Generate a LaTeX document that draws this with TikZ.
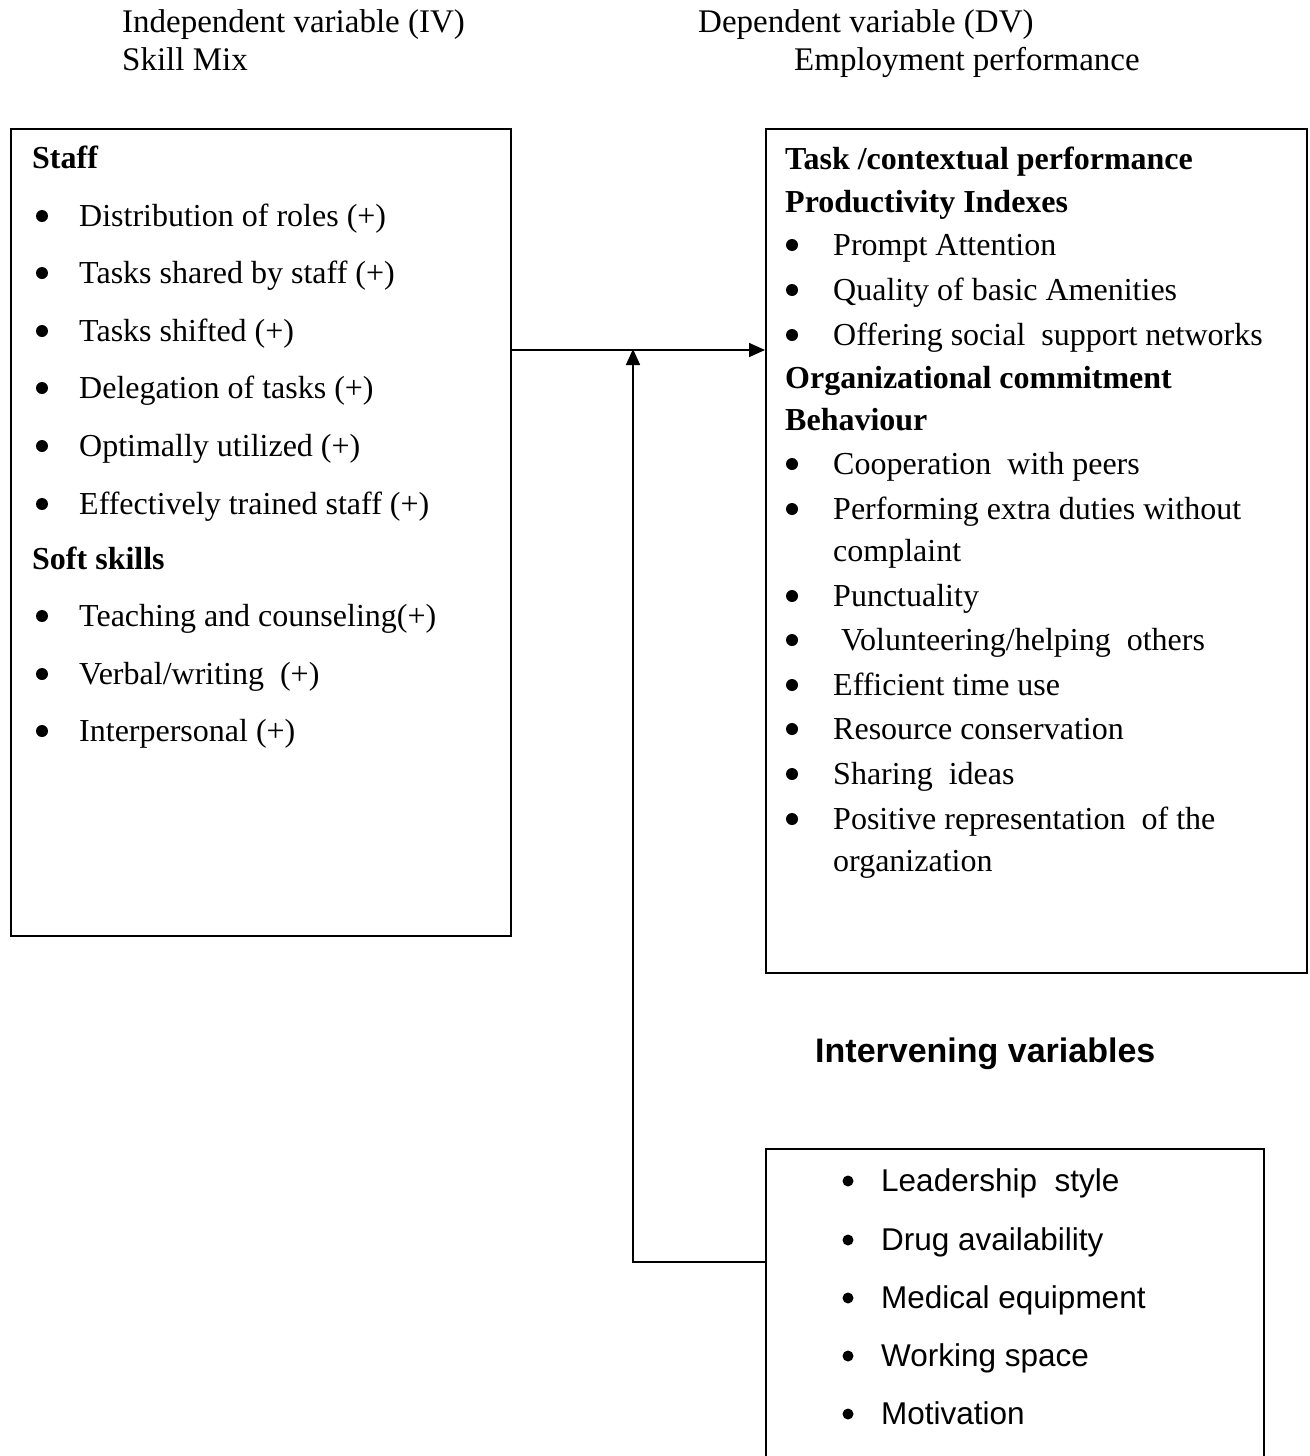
\documentclass[tikz,border=0pt]{standalone}
\usepackage{fontspec}
\setmainfont{Liberation Serif}
\newfontfamily\sansf{Liberation Sans}
\usetikzlibrary{arrows.meta}
\begin{document}
\begin{tikzpicture}[x=1pt,y=-1pt,
  txt/.style={inner sep=0pt,anchor=base west,font=\fontsize{32}{36}\selectfont},
  hdtxt/.style={txt,font=\fontsize{32}{36}\selectfont\bfseries},
  toptxt/.style={inner sep=0pt,anchor=base west,font=\fontsize{33}{38}\selectfont},
  bul/.style={circle,fill,inner sep=0pt,minimum size=12pt},
  stxt/.style={inner sep=0pt,anchor=base west,font=\sansf\fontsize{31.5}{36}\selectfont},
  sbul/.style={circle,fill,inner sep=0pt,minimum size=11pt},
  boxst/.style={draw,line width=1.6pt,inner sep=0pt,anchor=north west},
  conn/.style={line width=1.6pt},
  arr/.style={conn,-{Triangle[length=16pt,width=14pt]}}]
\useasboundingbox (0,0) rectangle (1309,1456);
% headers
\node[toptxt] (ivh) at (122,32) {Independent variable (IV)};
\node[toptxt] (ivs) at (122,70) {Skill Mix};
\node[toptxt] (dvh) at (698,32) {Dependent variable (DV)};
\node[toptxt] (dvs) at (794,70) {Employment performance};
% boxes
\node[boxst,minimum width=500pt,minimum height=807pt] (iv) at (10,128) {};
\node[boxst,minimum width=541pt,minimum height=844pt] (dv) at (765,128) {};
\node[boxst,minimum width=498pt,minimum height=360pt] (mv) at (765,1148) {};
% left box text
\node[hdtxt] (staff) at (32,168) {Staff};
\node[bul] (lb1) at (42,216) {}; \node[txt] (l1) at (79,226) {Distribution of roles (+)};
\node[bul] (lb2) at (42,273) {}; \node[txt] (l2) at (79,283) {Tasks shared by staff (+)};
\node[bul] (lb3) at (42,331) {}; \node[txt] (l3) at (79,341) {Tasks shifted (+)};
\node[bul] (lb4) at (42,388) {}; \node[txt] (l4) at (79,398) {Delegation of tasks (+)};
\node[bul] (lb5) at (42,446) {}; \node[txt] (l5) at (79,456) {Optimally utilized (+)};
\node[bul] (lb6) at (42,504) {}; \node[txt] (l6) at (79,514) {Effectively trained staff (+)};
\node[hdtxt] (soft) at (32,569) {Soft skills};
\node[bul] (lb7) at (42,616) {}; \node[txt] (l7) at (79,626) {Teaching and counseling(+)};
\node[bul] (lb8) at (42,674) {}; \node[txt] (l8) at (79,684) {Verbal/writing\ \ (+)};
\node[bul] (lb9) at (42,731) {}; \node[txt] (l9) at (79,741) {Interpersonal (+)};
% right box text
\node[hdtxt] (task) at (785,169) {Task /contextual performance};
\node[hdtxt] (prod) at (785,212) {Productivity Indexes};
\node[bul] (rb1) at (792,245) {}; \node[txt] (r1) at (833,255) {Prompt Attention};
\node[bul] (rb2) at (792,290) {}; \node[txt] (r2) at (833,300) {Quality of basic Amenities};
\node[bul] (rb3) at (792,335) {}; \node[txt] (r3) at (833,345) {Offering social\ \ support networks};
\node[hdtxt] (org) at (785,388) {Organizational commitment};
\node[hdtxt] (beh) at (785,430) {Behaviour};
\node[bul] (rb4) at (792,464) {}; \node[txt] (r4) at (833,474) {Cooperation\ \ with peers};
\node[bul] (rb5) at (792,509) {}; \node[txt] (r5) at (833,519) {Performing extra duties without};
\node[txt] (r5b) at (833,561) {complaint};
\node[bul] (rb6) at (792,596) {}; \node[txt] (r6) at (833,606) {Punctuality};
\node[bul] (rb7) at (792,640) {}; \node[txt] (r7) at (841,650) {Volunteering/helping\ \ others};
\node[bul] (rb8) at (792,685) {}; \node[txt] (r8) at (833,695) {Efficient time use};
\node[bul] (rb9) at (792,729) {}; \node[txt] (r9) at (833,739) {Resource conservation};
\node[bul] (rb10) at (792,774) {}; \node[txt] (r10) at (833,784) {Sharing\ \ ideas};
\node[bul] (rb11) at (792,819) {}; \node[txt] (r11) at (833,829) {Positive representation\ \ of the};
\node[txt] (r11b) at (833,871) {organization};
% intervening
\node[inner sep=0pt,anchor=base west,font=\sansf\bfseries\fontsize{34}{40}\selectfont] (inth) at (815,1062) {Intervening variables};
\node[sbul] (mb1) at (848,1181) {}; \node[stxt] (m1) at (881,1191) {Leadership\ \ style};
\node[sbul] (mb2) at (848,1240) {}; \node[stxt] (m2) at (881,1250) {Drug availability};
\node[sbul] (mb3) at (848,1298) {}; \node[stxt] (m3) at (881,1308) {Medical equipment};
\node[sbul] (mb4) at (848,1356) {}; \node[stxt] (m4) at (881,1366) {Working space};
\node[sbul] (mb5) at (848,1414) {}; \node[stxt] (m5) at (881,1424) {Motivation};
% connectors
\coordinate (j) at (633,350);
\coordinate (k) at (633,1262);
\draw[arr] (iv.east |- j) -- (dv.west |- j);
\draw[arr] (mv.west |- k) -- (k) -- ([yshift=1pt]j);
\end{tikzpicture}
\end{document}
